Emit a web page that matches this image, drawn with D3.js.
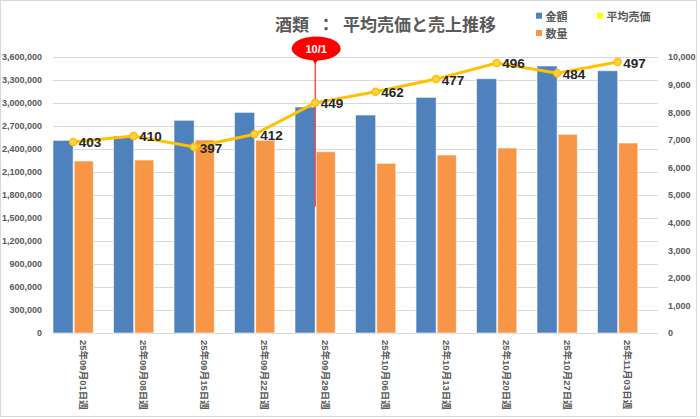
<!DOCTYPE html>
<html>
<head>
<meta charset="utf-8">
<script src="https://cdn.jsdelivr.net/npm/d3@7"></script>
<style>
  body { margin: 0; background: #fff; }
  text { font-family: "Liberation Sans", "Noto Sans CJK JP", sans-serif; }
</style>
</head>
<body>
<script>
// data
var weeks = ["25年09月01日週", "25年09月08日週", "25年09月15日週", "25年09月22日週", "25年09月29日週",
             "25年10月06日週", "25年10月13日週", "25年10月20日週", "25年10月27日週", "25年11月03日週"];
var amount   = [2513000, 2570000, 2774000, 2878000, 2948000, 2843000, 3074000, 3317000, 3483000, 3421000];
var quantity = [6232, 6268, 6993, 6985, 6569, 6148, 6449, 6703, 7199, 6884];
var avgPrice = [403, 410, 397, 412, 449, 462, 477, 496, 484, 497];

var leftTicks  = [0, 300000, 600000, 900000, 1200000, 1500000, 1800000, 2100000, 2400000, 2700000, 3000000, 3300000, 3600000];
var rightTicks = [0, 1000, 2000, 3000, 4000, 5000, 6000, 7000, 8000, 9000, 10000];

var legendItems = [["金額", "#4f81bd"], ["数量", "#f79646"], ["平均売価", "#ffff00"]];
var marker = { label: "10/1", week: "25年09月29日週", bottom: 1650000 };

var width = 700, height = 419;
var plot = { top: 57, bottom: 333, left: 53, right: 658 };

var svg = d3.select("body").append("svg")
    .attr("width", width)
    .attr("height", height);

svg.append("rect")
    .attr("x", 0.5).attr("y", 0.5)
    .attr("width", 696).attr("height", 416)
    .attr("fill", "#fff")
    .attr("stroke", "#d9d9d9");

var x = d3.scaleBand().domain(weeks).range([plot.left, plot.right]);
var slot = x.bandwidth() / 3;
var yL = d3.scaleLinear().domain([0, 3600000]).range([plot.bottom, plot.top]);
var yR = d3.scaleLinear().domain([0, 10000]).range([plot.bottom, plot.top]);
// line sits on its own hidden axis
var yA = d3.scaleLinear().domain([178, 503]).range([plot.bottom, plot.top]);

// gridlines
svg.append("g").selectAll("line")
  .data(leftTicks)
  .join("line")
    .attr("x1", plot.left).attr("x2", plot.right)
    .attr("y1", function (d) { return Math.round(yL(d)) + 0.5; })
    .attr("y2", function (d) { return Math.round(yL(d)) + 0.5; })
    .attr("stroke", "#d9d9d9");

// axes
var axL = svg.append("g")
    .attr("transform", "translate(" + plot.left + ",0)")
    .call(d3.axisLeft(yL).tickValues(leftTicks).tickSize(0).tickPadding(11).tickFormat(d3.format(",")));
var axR = svg.append("g")
    .attr("transform", "translate(" + plot.right + ",0)")
    .call(d3.axisRight(yR).tickValues(rightTicks).tickSize(0).tickPadding(10).tickFormat(d3.format(",")));
[axL, axR].forEach(function (ax) {
  ax.select(".domain").remove();
  ax.selectAll("text")
    .attr("fill", "#595959")
    .attr("font-size", "9px")
    .attr("font-weight", "bold")
    .style("font-family", "Liberation Sans");
});

// bars
svg.append("g").selectAll("rect")
  .data(weeks)
  .join("rect")
    .attr("x", function (d) { return x(d); })
    .attr("y", function (d, i) { return yL(amount[i]); })
    .attr("width", slot)
    .attr("height", function (d, i) { return plot.bottom - yL(amount[i]); })
    .attr("fill", "#4f81bd")
    .attr("stroke", "#ffffff").attr("stroke-opacity", 0.6);

svg.append("g").selectAll("rect")
  .data(weeks)
  .join("rect")
    .attr("x", function (d) { return x(d) + slot + 1; })
    .attr("y", function (d, i) { return yR(quantity[i]); })
    .attr("width", slot - 1)
    .attr("height", function (d, i) { return plot.bottom - yR(quantity[i]); })
    .attr("fill", "#f79646")
    .attr("stroke", "#ffffff").attr("stroke-opacity", 0.6);

// x labels
svg.append("g").selectAll("text")
  .data(weeks)
  .join("text")
    .attr("transform", function (d) { return "translate(" + (x(d) + x.bandwidth() / 2) + ",340) rotate(90)"; })
    .attr("dominant-baseline", "central")
    .attr("fill", "#595959")
    .attr("font-size", "9.5px")
    .attr("font-weight", "bold")
    .text(function (d) { return d; });

// 10/1 marker
var mx = x(marker.week) + slot;
svg.append("line")
    .attr("x1", mx).attr("x2", mx)
    .attr("y1", 58).attr("y2", yL(marker.bottom))
    .attr("stroke", "#ff0000").attr("stroke-width", 1);
svg.append("path")
    .attr("d", "M" + (mx - 4) + ",58 L" + mx + ",64 L" + (mx + 4) + ",58 Z")
    .attr("fill", "#ff0000");
svg.append("ellipse")
    .attr("cx", mx + 1).attr("cy", 48.5)
    .attr("rx", 24.5).attr("ry", 12)
    .attr("fill", "#ff0000");
svg.append("text")
    .attr("x", mx + 1).attr("y", 48.5)
    .attr("text-anchor", "middle")
    .attr("dominant-baseline", "central")
    .attr("fill", "#fff")
    .attr("font-size", "11px")
    .attr("font-weight", "bold")
    .text(marker.label);

// average price line
var line = d3.line()
    .x(function (d, i) { return x(weeks[i]) + slot; })
    .y(function (d) { return yA(d); });

svg.append("path")
    .datum(avgPrice)
    .attr("d", line)
    .attr("fill", "none")
    .attr("stroke", "#ffc000")
    .attr("stroke-width", 3);

svg.append("g").selectAll("circle")
  .data(avgPrice)
  .join("circle")
    .attr("cx", function (d, i) { return x(weeks[i]) + slot; })
    .attr("cy", function (d) { return yA(d); })
    .attr("r", 3.5)
    .attr("fill", "#ffd24a")
    .attr("stroke", "#ffc000")
    .attr("stroke-width", 1.5);

svg.append("g").selectAll("text")
  .data(avgPrice)
  .join("text")
    .attr("x", function (d, i) { return x(weeks[i]) + slot + 5.5; })
    .attr("y", function (d) { return yA(d) + 1; })
    .attr("dominant-baseline", "central")
    .attr("fill", "#262626")
    .attr("font-size", "13.5px")
    .attr("font-weight", "bold")
    .text(function (d) { return d; });

// title
var title = svg.append("text")
    .attr("y", 23)
    .attr("dominant-baseline", "central")
    .attr("fill", "#595959")
    .attr("font-size", "17px")
    .attr("font-weight", "bold")
    .style("font-family", "Noto Sans CJK JP");
title.append("tspan").attr("x", 275).text("酒類");
title.append("tspan").attr("x", 317.5).text("：");
title.append("tspan").attr("x", 343).text("平均売価と売上推移");

// legend
var legPos = [[536, 15.7], [536, 33], [597, 15.7]];
var leg = svg.append("g").selectAll("g")
  .data(legendItems)
  .join("g")
    .attr("transform", function (d, i) { return "translate(" + legPos[i][0] + "," + legPos[i][1] + ")"; });
leg.append("rect")
    .attr("x", 0).attr("y", -3)
    .attr("width", 6).attr("height", 6)
    .attr("fill", function (d) { return d[1]; });
leg.append("text")
    .attr("x", 9.5)
    .attr("dominant-baseline", "central")
    .attr("fill", "#595959")
    .attr("font-size", "11px")
    .attr("font-weight", "bold")
    .style("font-family", "Noto Sans CJK JP")
    .text(function (d) { return d[0]; });
</script>
</body>
</html>
